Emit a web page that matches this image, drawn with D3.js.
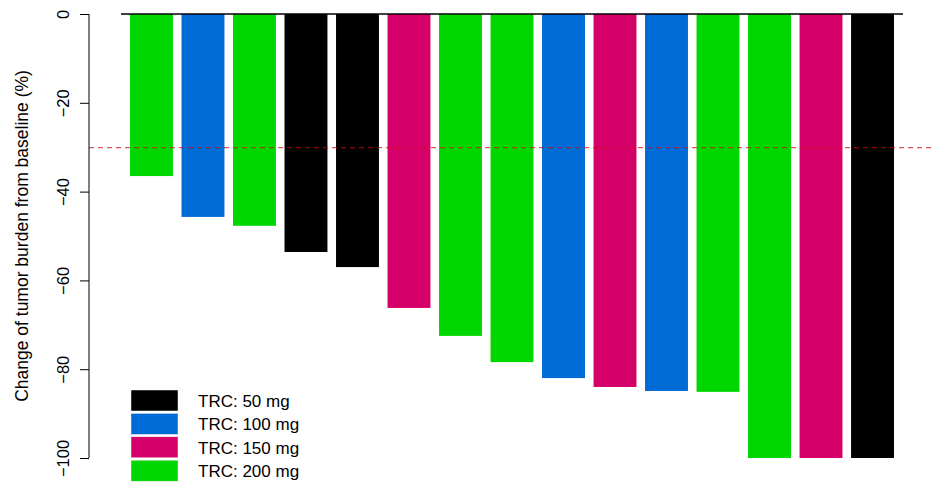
<!DOCTYPE html>
<html>
<head>
<meta charset="utf-8">
<script src="https://cdn.jsdelivr.net/npm/d3@7"></script>
<style>
  html, body { margin: 0; padding: 0; background: #fff; }
  svg { display: block; font-family: "Liberation Sans", Arial, Helvetica, sans-serif; }
</style>
</head>
<body>
<svg id="chart" width="937" height="485"></svg>
<script>
// ---- data ----
const patients = ["P1","P2","P3","P4","P5","P6","P7","P8","P9","P10","P11","P12","P13","P14","P15"];
const changes  = [-36.5, -45.7, -47.7, -53.6, -57.0, -66.2, -72.5, -78.4, -82.0, -84.0, -84.9, -85.1, -100, -100, -100];
const doses    = ["200 mg","100 mg","200 mg","50 mg","50 mg","150 mg","200 mg","200 mg","100 mg","150 mg","100 mg","200 mg","200 mg","150 mg","50 mg"];
const doseLevels = ["50 mg","100 mg","150 mg","200 mg"];
const doseColors = ["#000000","#006BD6","#D6006B","#00D600"];
const yTicks = [0, -20, -40, -60, -80, -100];
const threshold = -30;
const yTitle = "Change of tumor burden from baseline (%)";

// ---- chart ----
const svg = d3.select("#chart");
const color = d3.scaleOrdinal().domain(doseLevels).range(doseColors);

const x = d3.scaleBand()
  .domain(patients)
  .range([121, 903])
  .paddingInner(1/6)
  .paddingOuter(0.175);

const y = d3.scaleLinear().domain([0, -100]).range([14, 458]);

// bars
svg.append("g").selectAll("rect")
  .data(patients)
  .join("rect")
  .attr("x", d => x(d))
  .attr("width", x.bandwidth())
  .attr("y", y(0))
  .attr("height", (d, i) => y(changes[i]) - y(0))
  .attr("fill", (d, i) => color(doses[i]));

// baseline line at top
svg.append("line")
  .attr("x1", 121).attr("x2", 903)
  .attr("y1", y(0)).attr("y2", y(0))
  .attr("stroke", "#000").attr("stroke-width", 1.3);

// threshold dashed line
svg.append("line")
  .attr("x1", 89).attr("x2", 935)
  .attr("y1", y(threshold) + 0.5).attr("y2", y(threshold) + 0.5)
  .attr("stroke", "#cc0a0a")
  .attr("stroke-opacity", 0.85)
  .attr("stroke-width", 1)
  .attr("stroke-dasharray", "5,4");

// y axis
const yAxis = d3.axisLeft(y)
  .tickValues(yTicks)
  .tickSize(9)
  .tickPadding(0)
  .tickFormat(d => d === 0 ? "0" : "\u2212" + Math.abs(d));

const gy = svg.append("g")
  .attr("transform", "translate(89,0)")
  .call(yAxis);
gy.select(".domain").attr("stroke", "#000").attr("stroke-width", 1).attr("d", `M0,${y(0)}V${y(-100)}`);
gy.selectAll(".tick line").attr("stroke", "#000");
gy.selectAll(".tick text")
  .attr("x", null).attr("dy", null)
  .attr("transform", "translate(-20,0) rotate(-90)")
  .attr("text-anchor", "middle")
  .attr("fill", "#000")
  .style("font-size", "16.5px")
  .style("font-family", "'Liberation Sans', Arial, Helvetica, sans-serif");

// y title
svg.append("text")
  .attr("transform", `translate(28,${(y(0) + y(-100)) / 2}) rotate(-90)`)
  .attr("text-anchor", "middle")
  .style("font-size", "17.5px")
  .attr("fill", "#000")
  .text(yTitle);

// legend
const lg = svg.append("g");
const rowH = 23.4;
doseLevels.forEach((lvl, i) => {
  const top = 390 + i * rowH;
  lg.append("rect")
    .attr("x", 131).attr("y", top)
    .attr("width", 47).attr("height", 21)
    .attr("fill", color(lvl))
    .attr("stroke", "#eee").attr("stroke-width", 0.5);
  lg.append("text")
    .attr("x", 198).attr("y", top + 17)
    .style("font-size", "17px")
    .attr("fill", "#000")
    .text("TRC: " + lvl);
});
</script>
</body>
</html>
